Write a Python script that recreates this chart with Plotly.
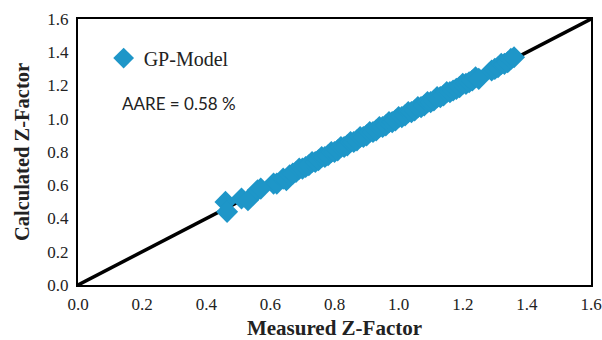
import plotly.graph_objects as go

measured = [0.46, 0.465, 0.51, 0.53, 0.56, 0.57, 0.61, 0.62, 0.64, 0.65, 0.66, 0.67,
            0.68, 0.69, 0.70, 0.71, 0.72, 0.73, 0.74, 0.75, 0.76, 0.77, 0.78, 0.79,
            0.80, 0.81, 0.82, 0.83, 0.84, 0.85, 0.86, 0.87, 0.88, 0.89, 0.90, 0.91,
            0.92, 0.93, 0.94, 0.95, 0.96, 0.97, 0.98, 0.99, 1.00, 1.01, 1.02, 1.03,
            1.04, 1.05, 1.06, 1.07, 1.08, 1.09, 1.10, 1.11, 1.12, 1.13, 1.14, 1.15,
            1.16, 1.17, 1.18, 1.19, 1.20, 1.21, 1.22, 1.23, 1.24, 1.25,
            1.29, 1.30, 1.31, 1.32, 1.33, 1.34, 1.35, 1.36]
calculated = [0.50, 0.44, 0.52, 0.51, 0.57, 0.58, 0.61, 0.61, 0.64, 0.63, 0.66, 0.67,
              0.68, 0.70, 0.70, 0.71, 0.72, 0.74, 0.74, 0.75, 0.77, 0.77, 0.78, 0.80,
              0.80, 0.81, 0.83, 0.83, 0.84, 0.86, 0.86, 0.87, 0.89, 0.89, 0.90, 0.92,
              0.92, 0.93, 0.95, 0.95, 0.96, 0.98, 0.98, 0.99, 1.01, 1.01, 1.02, 1.04,
              1.04, 1.05, 1.07, 1.07, 1.08, 1.10, 1.10, 1.11, 1.13, 1.13, 1.14, 1.16,
              1.16, 1.17, 1.18, 1.19, 1.21, 1.21, 1.22, 1.23, 1.25, 1.24,
              1.29, 1.30, 1.31, 1.33, 1.33, 1.34, 1.36, 1.37]
line_x = [0.0, 1.6]
line_y = [0.0, 1.6]
ticks = [0.0, 0.2, 0.4, 0.6, 0.8, 1.0, 1.2, 1.4, 1.6]
tick_text = ["0.0", "0.2", "0.4", "0.6", "0.8", "1.0", "1.2", "1.4", "1.6"]

fig = go.Figure()
fig.add_trace(go.Scatter(x=line_x, y=line_y, mode="lines",
                         line=dict(color="black", width=3.5), showlegend=False))
fig.add_trace(go.Scatter(x=measured, y=calculated, mode="markers", name="GP-Model",
                         marker=dict(symbol="diamond", size=17, color="#1e96c8",
                                     line=dict(width=0))))

serif = "Liberation Serif, Times New Roman, serif"
axis_common = dict(range=[0, 1.6], tickvals=ticks, ticktext=tick_text,
                   showgrid=False, zeroline=False, showline=True, linecolor="black",
                   linewidth=2, mirror=True, ticks="", automargin=False,
                   tickfont=dict(family=serif, size=17, color="#222"))
fig.update_xaxes(**axis_common, ticklabelstandoff=3,
                 title=dict(text="<b>Measured Z-Factor</b>", standoff=14,
                            font=dict(family=serif, size=21, color="#222")))
fig.update_yaxes(**axis_common, ticklabelstandoff=4,
                 title=dict(text="<b>Calculated Z-Factor</b>", standoff=12,
                            font=dict(family=serif, size=20.5, color="#222")))

fig.add_annotation(text="AARE = 0.58 %", xref="paper", yref="paper",
                   x=(120 - 78) / 513, y=(285 - 103) / 266, xanchor="left", yanchor="middle",
                   showarrow=False, font=dict(family="Lato, sans-serif", size=17, color="#222"))

fig.update_layout(width=602, height=340, margin=dict(l=78, r=11, t=19, b=55),
                  plot_bgcolor="white", paper_bgcolor="white",
                  legend=dict(x=0.05, y=0.853, xanchor="left", yanchor="middle",
                              bgcolor="rgba(0,0,0,0)", itemwidth=30,
                              font=dict(family=serif, size=20, color="#222")))

fig.write_html("out.html")
